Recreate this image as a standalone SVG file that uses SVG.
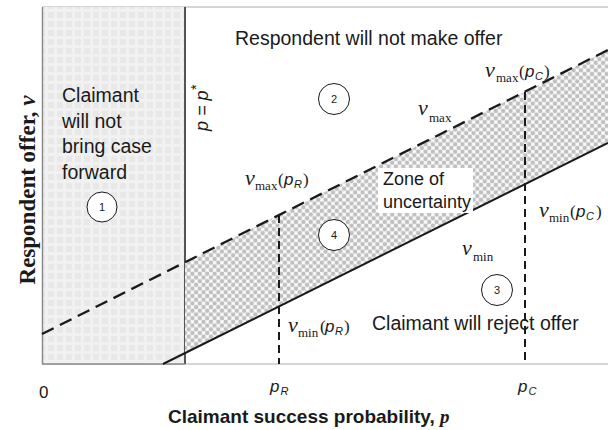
<svg xmlns="http://www.w3.org/2000/svg" width="608" height="430" viewBox="0 0 608 430">
<style>
.sans{font-family:"Liberation Sans",Arial,sans-serif;fill:#1a1a1a}
.serif{font-family:"Liberation Serif","Times New Roman",serif;fill:#1a1a1a}
.num{font-family:"Liberation Sans",Arial,sans-serif;font-size:11px;fill:#1a1a1a;text-anchor:middle}
.circ{fill:#fff;stroke:#1a1a1a;stroke-width:1}
.dash{fill:none;stroke:#1a1a1a;stroke-width:2.3;stroke-dasharray:13 7}
.vdash{fill:none;stroke:#1a1a1a;stroke-width:2;stroke-dasharray:8 5}
.solid{fill:none;stroke:#1a1a1a;stroke-width:2}
</style>
<defs>
<pattern id="dots" width="7.4" height="7.4" patternUnits="userSpaceOnUse">
<rect width="7.4" height="7.4" fill="#ffffff"/>
<circle cx="0" cy="0" r="2.3" fill="#c0c0c0"/>
<circle cx="7.4" cy="0" r="2.3" fill="#c0c0c0"/>
<circle cx="0" cy="7.4" r="2.3" fill="#c0c0c0"/>
<circle cx="7.4" cy="7.4" r="2.3" fill="#c0c0c0"/>
<circle cx="3.7" cy="3.7" r="2.3" fill="#c0c0c0"/>
</pattern>
<pattern id="plaid" width="9" height="9" patternUnits="userSpaceOnUse">
<rect width="9" height="9" fill="#e8e8e8"/>
<rect x="0" y="0" width="3" height="9" fill="#f1f1f1"/>
<rect x="0" y="0" width="9" height="3" fill="#f1f1f1"/>
</pattern>
</defs>

<g id="frame">
<line x1="42" y1="7" x2="608" y2="7" stroke="#c8c8c8" stroke-width="1.5"/>
<line x1="42" y1="364" x2="608" y2="364" stroke="#c8c8c8" stroke-width="1.5"/>
</g>

<g id="region1">
<rect x="42" y="7" width="143" height="357" fill="url(#plaid)"/>
<line x1="42.5" y1="7" x2="42.5" y2="364" stroke="#8a8a8a" stroke-width="1.5"/>
<line x1="185" y1="7" x2="185" y2="364" stroke="#444" stroke-width="1.8"/>
<line x1="42" y1="364" x2="185" y2="364" stroke="#8a8a8a" stroke-width="1.5"/>
</g>

<g id="zone">
<polygon points="185,262.2 608,50 608,143 185,353" fill="url(#dots)"/>
</g>

<g id="connectors">
<line class="dash" x1="42" y1="334" x2="608" y2="50"/>
<line class="solid" x1="163" y1="364" x2="608" y2="143"/>
<line class="vdash" x1="279" y1="215" x2="279" y2="364"/>
<line class="vdash" x1="525" y1="92" x2="525" y2="364"/>
</g>

<g id="zone-label">
<rect x="378" y="168" width="95" height="45" fill="#fff"/>
<text class="sans" font-size="18" x="383" y="185">Zone of</text>
<text class="sans" font-size="18" x="383" y="208">uncertainty</text>
</g>

<g id="node1">
<text class="sans" font-size="19.5"><tspan x="62" y="102">Claimant</tspan><tspan x="62" y="127.5">will not</tspan><tspan x="62" y="153">bring case</tspan><tspan x="62" y="178.5">forward</tspan></text>
<circle class="circ" cx="102" cy="207" r="15"/>
<text class="num" x="102" y="211">1</text>
</g>

<g id="node2">
<text class="sans" font-size="19.5" x="235" y="45">Respondent will not make offer</text>
<circle class="circ" cx="334" cy="99" r="15.5"/>
<text class="num" x="334" y="103">2</text>
</g>

<g id="node3">
<text class="sans" font-size="19.5" x="372" y="330">Claimant will reject offer</text>
<circle class="circ" cx="497" cy="290" r="15.5"/>
<text class="num" x="497" y="294">3</text>
</g>

<g id="node4">
<circle class="circ" cx="334" cy="235" r="15.5"/>
<text class="num" x="334" y="239">4</text>
</g>

<g id="pstar">
<text class="sans" font-size="18" font-style="italic" transform="translate(208,131) rotate(-90)">p = p<tspan font-size="14" dy="-7">*</tspan></text>
</g>

<g id="labels">
<text class="serif" font-size="22" font-style="italic" x="245" y="185">v</text>
<text class="serif" font-size="13" x="255" y="190">max</text>
<text class="serif" font-size="17" x="278" y="185">(</text>
<text class="sans" font-size="17" font-style="italic" x="284" y="185">p</text>
<text class="sans" font-size="11" font-style="italic" x="294" y="188">R</text>
<text class="serif" font-size="17" x="303" y="185">)</text>

<text class="serif" font-size="22" font-style="italic" x="418" y="115">v</text>
<text class="serif" font-size="13" x="429" y="122">max</text>

<text class="serif" font-size="22" font-style="italic" x="485" y="77">v</text>
<text class="serif" font-size="13" x="496" y="82">max</text>
<text class="serif" font-size="17" x="519" y="77">(</text>
<text class="sans" font-size="17" font-style="italic" x="525" y="77">p</text>
<text class="sans" font-size="11" font-style="italic" x="535" y="80">C</text>
<text class="serif" font-size="17" x="544" y="77">)</text>

<text class="serif" font-size="22" font-style="italic" x="462" y="255">v</text>
<text class="serif" font-size="13" x="473" y="261">min</text>

<text class="serif" font-size="22" font-style="italic" x="539" y="217">v</text>
<text class="serif" font-size="13" x="549" y="222">min</text>
<text class="serif" font-size="17" x="570" y="217">(</text>
<text class="sans" font-size="17" font-style="italic" x="576" y="217">p</text>
<text class="sans" font-size="11" font-style="italic" x="586" y="220">C</text>
<text class="serif" font-size="17" x="596" y="217">)</text>

<text class="serif" font-size="22" font-style="italic" x="288" y="332">v</text>
<text class="serif" font-size="13" x="298" y="337">min</text>
<text class="serif" font-size="17" x="320" y="332">(</text>
<text class="sans" font-size="17" font-style="italic" x="325" y="332">p</text>
<text class="sans" font-size="11" font-style="italic" x="335" y="335">R</text>
<text class="serif" font-size="17" x="344" y="332">)</text>
</g>

<g id="axes-labels">
<text class="sans" font-size="17" x="39" y="398">0</text>
<text class="sans" font-size="17" font-style="italic" x="270" y="392">p<tspan font-size="11" dy="3" dx="1">R</tspan></text>
<text class="sans" font-size="17" font-style="italic" x="518" y="392">p<tspan font-size="11" dy="3" dx="1">C</tspan></text>
<text class="sans" font-size="19" font-weight="bold" x="168" y="423">Claimant success probability, <tspan class="serif" font-style="italic">p</tspan></text>
<text class="serif" font-size="23" font-weight="bold" text-anchor="middle" transform="translate(35,190) rotate(-90)">Respondent offer, <tspan font-style="italic">v</tspan></text>
</g>
</svg>
